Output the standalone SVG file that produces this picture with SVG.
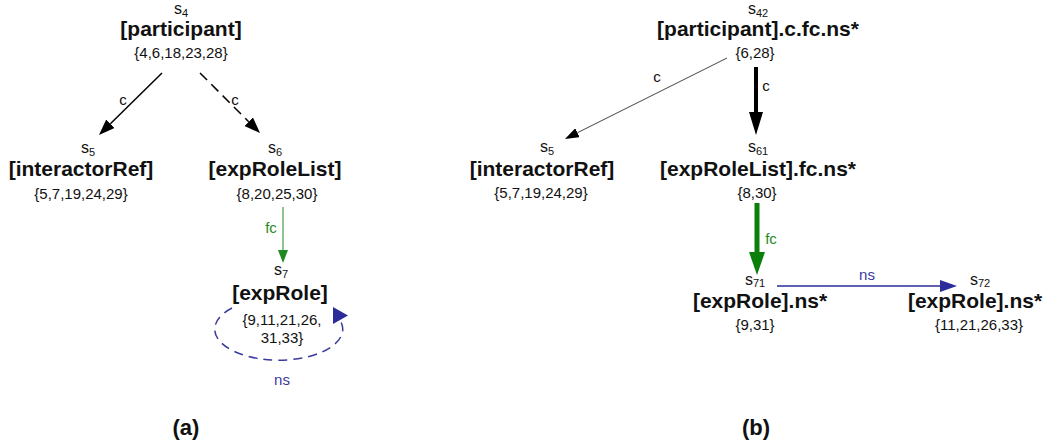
<svg xmlns="http://www.w3.org/2000/svg" width="1045" height="446" viewBox="0 0 1045 446">
<style>
text{font-family:"Liberation Sans",Arial,sans-serif;fill:#111;text-anchor:middle}
.s{font-size:16px}
.sub{font-size:11px}
.lb{font-size:21px;font-weight:bold}
.set{font-size:15px}
.el{font-size:15px}
.green{fill:#1f8a1f}
.blue{fill:#3a3a9e}
.cap{font-size:22px;font-weight:bold}
</style>
<defs>
<marker id="ahBlk" markerUnits="userSpaceOnUse" markerWidth="16" markerHeight="12" refX="0" refY="6" orient="auto"><path d="M0,0 L16,6 L0,12 z" fill="#000"/></marker>
<marker id="ahThin" markerUnits="userSpaceOnUse" markerWidth="14" markerHeight="10" refX="0" refY="5" orient="auto"><path d="M0,0 L14,5 L0,10 z" fill="#000"/></marker>
<marker id="ahGreen" markerUnits="userSpaceOnUse" markerWidth="13" markerHeight="10" refX="0" refY="5" orient="auto"><path d="M0,0 L13,5 L0,10 z" fill="#1f8a1f"/></marker>
<marker id="ahBigBlk" markerUnits="userSpaceOnUse" markerWidth="23" markerHeight="14" refX="0" refY="7" orient="auto"><path d="M0,0 L23,7 L0,14 z" fill="#000"/></marker>
<marker id="ahBigGreen" markerUnits="userSpaceOnUse" markerWidth="23" markerHeight="16" refX="0" refY="8" orient="auto"><path d="M0,0 L23,8 L0,16 z" fill="#0a7f0a"/></marker>
<marker id="ahBlue" markerUnits="userSpaceOnUse" markerWidth="17" markerHeight="12" refX="0" refY="6" orient="auto"><path d="M0,0 L17,6 L0,12 z" fill="#2b2b9a"/></marker>
</defs>

<g id="connectors">
<!-- (a) -->
<line x1="162" y1="73" x2="110.4" y2="123.8" stroke="#000" stroke-width="1.5" marker-end="url(#ahBlk)"/>
<text class="el" x="123" y="105">c</text>
<line x1="200" y1="73" x2="248.7" y2="121.7" stroke="#000" stroke-width="1.5" stroke-dasharray="10,6" marker-end="url(#ahBlk)"/>
<text class="el" x="235" y="105">c</text>
<line x1="283" y1="207" x2="283" y2="250" stroke="#1f8a1f" stroke-width="1" marker-end="url(#ahGreen)"/>
<text class="el green" x="271" y="233">fc</text>
<path d="M232,308 A64,31 0 1,0 341,322" fill="none" stroke="#3a3a9e" stroke-width="1.5" stroke-dasharray="9,6"/>
<polygon points="333,307 333,324 348,315.5" fill="#2b2b9a"/>
<text class="el blue" x="282" y="385">ns</text>
<!-- (b) -->
<line x1="727" y1="58" x2="577.5" y2="132.7" stroke="#444" stroke-width="1" marker-end="url(#ahThin)"/>
<text class="el" x="657" y="82">c</text>
<line x1="756" y1="67" x2="756" y2="112" stroke="#000" stroke-width="4" marker-end="url(#ahBigBlk)"/>
<text class="el" x="766" y="91">c</text>
<line x1="757" y1="203" x2="757" y2="252" stroke="#0a7f0a" stroke-width="5" marker-end="url(#ahBigGreen)"/>
<text class="el green" x="771" y="244">fc</text>
<line x1="777" y1="286" x2="940" y2="286" stroke="#2b2b9a" stroke-width="1.5" marker-end="url(#ahBlue)"/>
<text class="el blue" x="867" y="280">ns</text>
</g>

<g id="a_s4">
<text class="s" x="181" y="14">s<tspan class="sub" dy="3">4</tspan></text>
<text class="lb" x="181" y="36">[participant]</text>
<text class="set" x="181" y="58">{4,6,18,23,28}</text>
</g>
<g id="a_s5">
<text class="s" x="88" y="153">s<tspan class="sub" dy="3">5</tspan></text>
<text class="lb" x="81" y="176">[interactorRef]</text>
<text class="set" x="81" y="199">{5,7,19,24,29}</text>
</g>
<g id="a_s6">
<text class="s" x="275" y="153">s<tspan class="sub" dy="3">6</tspan></text>
<text class="lb" x="275" y="176">[expRoleList]</text>
<text class="set" x="277" y="199">{8,20,25,30}</text>
</g>
<g id="a_s7">
<text class="s" x="281" y="275">s<tspan class="sub" dy="3">7</tspan></text>
<text class="lb" x="280" y="300">[expRole]</text>
<text class="set" x="282" y="325">{9,11,21,26,</text>
<text class="set" x="282" y="343">31,33}</text>
</g>

<g id="b_s42">
<text class="s" x="758" y="14">s<tspan class="sub" dy="3">42</tspan></text>
<text class="lb" x="758" y="36">[participant].c.fc.ns*</text>
<text class="set" x="755" y="58">{6,28}</text>
</g>
<g id="b_s5">
<text class="s" x="547" y="152">s<tspan class="sub" dy="3">5</tspan></text>
<text class="lb" x="542" y="176">[interactorRef]</text>
<text class="set" x="541" y="198">{5,7,19,24,29}</text>
</g>
<g id="b_s61">
<text class="s" x="758" y="152">s<tspan class="sub" dy="3">61</tspan></text>
<text class="lb" x="758" y="176">[expRoleList].fc.ns*</text>
<text class="set" x="757" y="198">{8,30}</text>
</g>
<g id="b_s71">
<text class="s" x="755" y="285">s<tspan class="sub" dy="2">71</tspan></text>
<text class="lb" x="760" y="308">[expRole].ns*</text>
<text class="set" x="755" y="330">{9,31}</text>
</g>
<g id="b_s72">
<text class="s" x="980" y="285">s<tspan class="sub" dy="2">72</tspan></text>
<text class="lb" x="975" y="308">[expRole].ns*</text>
<text class="set" x="979" y="330">{11,21,26,33}</text>
</g>

<text class="cap" x="186" y="435">(a)</text>
<text class="cap" x="756" y="435">(b)</text>
</svg>
